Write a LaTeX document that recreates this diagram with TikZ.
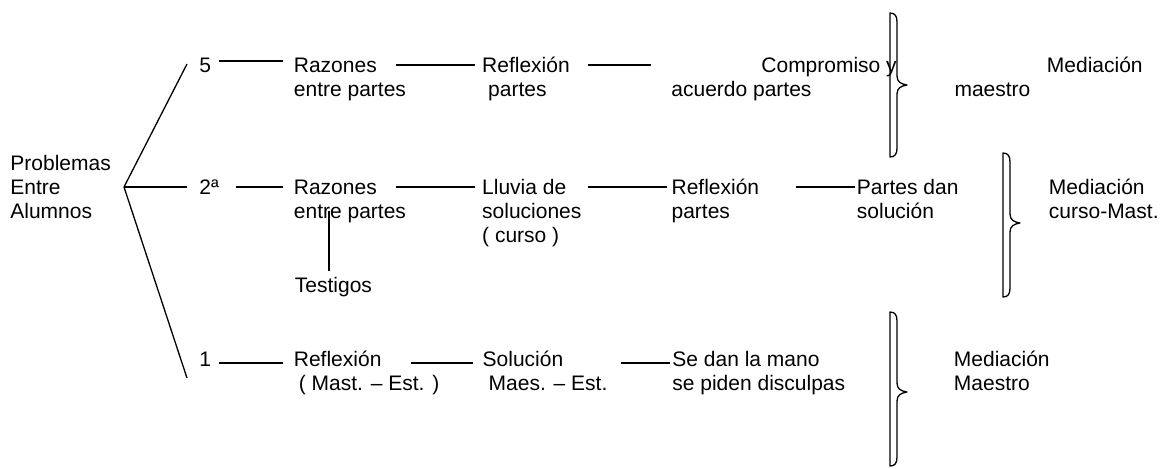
\documentclass[tikz,border=0pt]{standalone}
\usepackage{fontspec}
\setmainfont{Liberation Sans}
\usepackage{tikz}
\tikzset{
    txt/.style={
           inner sep=0pt,
           anchor=base west,
           text height=7.5pt,
           text depth=0pt,
           font=\fontsize{10.5}{12}\selectfont,
           },
    link/.style={
           draw=black, line width=0.65pt,
           },
    brace/.style={
           draw=black, line width=0.65pt, line join=round,
           },
}
% right brace: x, top, tip, bottom
\newcommand{\mediationbrace}[4]{%
    \draw[brace] (#1,#2)
        .. controls (#1+5,#2) and (#1+7,#2+3) .. (#1+7,#2+9)
        -- (#1+7,#3-9)
        .. controls (#1+7,#3-3) and (#1+11,#3-1) .. (#1+17,#3)
        .. controls (#1+11,#3+1) and (#1+7,#3+3) .. (#1+7,#3+9)
        -- (#1+7,#4-9)
        .. controls (#1+7,#4-3) and (#1+5,#4) .. (#1,#4)
        -- cycle;}

\begin{document}
\begin{tikzpicture}[x=0.5pt,y=-0.5pt]
      \useasboundingbox (0,0) rectangle (1161,468);

      % START: the problem
      \node[txt] (prob) at (10,170) {Problemas};
      \node[txt] (entre) at ([yshift=-12pt]prob.base west) {Entre};
      \node[txt] (alum) at ([yshift=-12pt]entre.base west) {Alumnos};
      \coordinate (fan) at (124,187);
      \coordinate (up) at (187,64);
      \coordinate (dn) at (187,378);

      % ROW 5
      \node[txt] (n5) at (199,72.5) {5};
      \node[txt] (raz5) at (293.5,72.5) {Razones};
      \node[txt] (raz5b) at ([yshift=-12pt]raz5.base west) {entre partes};
      \node[txt] (ref5) at (481.8,72.5) {Reflexión};
      \node[txt] (ref5b) at ([xshift=3pt,yshift=-12pt]ref5.base west) {partes};
      \node[txt] (comp5) at (761,72.5) {Compromiso y};
      \node[txt] (comp5b) at ([xshift=-45pt,yshift=-12pt]comp5.base west) {acuerdo partes};
      \node[txt] (med5) at (1046.5,72.5) {Mediación};
      \node[txt] (med5b) at ([xshift=-46.2pt,yshift=-12pt]med5.base west) {maestro};

      % ROW 2a
      \node[txt] (n2) at (199,194.5) {2ª};
      \node[txt] (raz2) at (293.5,194.5) {Razones};
      \node[txt] (raz2b) at ([yshift=-12pt]raz2.base west) {entre partes};
      \node[txt] (test) at (294.5,292.5) {Testigos};
      \node[txt] (llu) at (481.8,194.5) {Lluvia de};
      \node[txt] (llub) at ([yshift=-12pt]llu.base west) {soluciones};
      \node[txt] (lluc) at ([yshift=-12pt]llub.base west) {( curso )};
      \node[txt] (ref2) at (671.2,194.5) {Reflexión};
      \node[txt] (ref2b) at ([yshift=-12pt]ref2.base west) {partes};
      \node[txt] (par) at (856.5,194.5) {Partes dan};
      \node[txt] (parb) at ([yshift=-12pt]par.base west) {solución};
      \node[txt] (med2) at (1048.5,194.5) {Mediación};
      \node[txt] (med2b) at ([yshift=-12pt]med2.base west) {curso-Mast.};

      % ROW 1
      \node[txt] (n1) at (199,366.5) {1};
      \node[txt] (ref3) at (293.5,366.5) {Reflexión};
      \node[txt] (ref3b) at ([xshift=2.5pt,yshift=-12pt]ref3.base west) {( Mast. – Est. )};
      \node[txt] (sol) at (482.3,366.5) {Solución};
      \node[txt] (solb) at ([xshift=3pt,yshift=-12pt]sol.base west) {Maes. – Est.};
      \node[txt] (se) at (672,366.5) {Se dan la mano};
      \node[txt] (seb) at ([yshift=-12pt]se.base west) {se piden disculpas};
      \node[txt] (med3) at (953.5,366.5) {Mediación};
      \node[txt] (med3b) at ([yshift=-12pt]med3.base west) {Maestro};

      % the fan
      \draw[link] (up) -- (fan) -- (dn);
      \draw[link, shorten >=6pt] (fan) -- (n2.west);

      % lines of row 5
      \draw[link, shorten <=3.65pt, shorten >=5.25pt] ([yshift=2pt]n5.east) -- ([yshift=2pt]raz5.west);
      \draw[link, shorten <=9.3pt, shorten >=3.4pt] (raz5.east) -- (ref5.west);
      \draw[link, shorten <=8.85pt, shorten >=55pt] (ref5.east) -- (comp5.west);

      % lines of row 2a
      \draw[link, shorten <=8.3pt, shorten >=5.25pt] (n2.east) -- (raz2.west);
      \draw[link, shorten <=9.3pt, shorten >=3.4pt] (raz2.east) -- (llu.west);
      \draw[link, shorten <=10.6pt, shorten >=2.1pt] (llu.east) -- (ref2.west);
      \draw[link, shorten <=18.15pt, shorten >=0.75pt] (ref2.east) -- (par.west);
      \draw[link, shorten <=3pt] ([xshift=-2.2pt]test.north) -- ([xshift=-2.2pt]test.north |- raz2b.east);

      % lines of row 1
      \draw[link, shorten <=3.65pt, shorten >=5.25pt] ([yshift=-2pt]n1.east) -- ([yshift=-2pt]ref3.west);
      \draw[link, shorten <=14.5pt, shorten >=4.65pt] ([yshift=-2pt]ref3.east) -- ([yshift=-2pt]sol.west);
      \draw[link, shorten <=28.6pt, shorten >=1pt] ([yshift=-2pt]sol.east) -- ([yshift=-2pt]se.west);

      % braces
      \mediationbrace{890}{13}{85}{157}
      \mediationbrace{1003}{153}{223}{297}
      \mediationbrace{890}{312}{392}{466}

\end{tikzpicture}
\end{document}
